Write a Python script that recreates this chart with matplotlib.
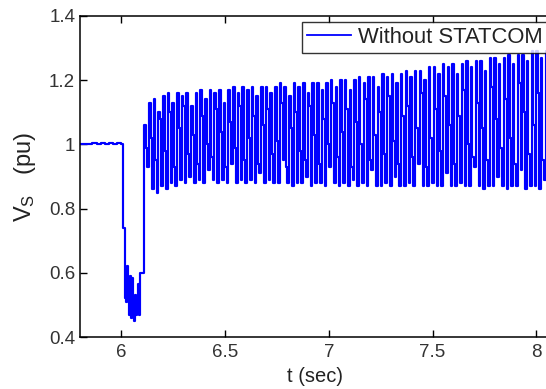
import numpy as np
import matplotlib
matplotlib.use("Agg")
import matplotlib.pyplot as plt

plt.rcParams['font.family'] = ['Liberation Sans', 'DejaVu Sans']
plt.rcParams['mathtext.default'] = 'regular'

# pre-fault voltage (sampled every 0.02 s from 5.80 s)
pre_start, pre_dt = 5.80, 0.02
pre_vals = [1.000, 1.002, 1.000, 1.004, 1.001, 1.003, 1.000, 1.004, 1.002, 1.005]

# fault period (sampled every 0.005 s from 6.00 s)
fault_start, fault_dt = 6.00, 0.005
fault_vals = [1.002, 0.74, 0.74, 0.52, 0.51, 0.62, 0.55, 0.47, 0.59, 0.46, 0.585,
              0.52, 0.45, 0.53, 0.47, 0.505, 0.565, 0.47, 0.60, 0.60, 0.60, 0.60]

# post-fault oscillation, one cycle = peak, mid step, trough
osc_start, osc_cycle = 6.11, 0.0225
peaks = [1.06, 1.13, 1.14, 1.10, 1.15, 1.16, 1.13, 1.16, 1.15, 1.16, 1.12,
         1.16, 1.17, 1.14, 1.17, 1.16, 1.17, 1.13, 1.17, 1.18, 1.16, 1.18,
         1.17, 1.18, 1.15, 1.18, 1.18, 1.16, 1.18, 1.19, 1.18, 1.15, 1.19,
         1.18, 1.19, 1.16, 1.19, 1.19, 1.17, 1.19, 1.20, 1.18, 1.20, 1.20,
         1.17, 1.20, 1.21, 1.19, 1.21, 1.21, 1.18, 1.22, 1.21, 1.22, 1.19,
         1.22, 1.23, 1.21, 1.23, 1.23, 1.20, 1.24, 1.24, 1.22, 1.25, 1.24,
         1.25, 1.22, 1.25, 1.26, 1.24, 1.26, 1.26, 1.23, 1.27, 1.27, 1.25,
         1.27, 1.28, 1.25, 1.28, 1.28, 1.26, 1.29, 1.29, 1.27, 1.29, 1.29]
mids = [0.99, 1.02, 0.95, 1.08, 0.98, 1.10, 0.93, 1.05, 1.12, 0.97, 1.03,
        0.94, 1.09, 1.00, 0.96, 1.11, 1.04, 0.93, 1.07, 0.99, 1.12, 0.95,
        1.02, 1.09, 0.94, 1.06, 1.11, 0.97, 1.01, 1.13, 0.93, 1.05, 1.10,
        0.98, 0.95, 1.12, 1.03, 0.94, 1.08, 1.00, 1.13, 0.96, 1.04, 1.11,
        0.93, 1.07, 1.00, 1.14, 0.95, 1.03, 1.10, 0.97, 1.15, 1.01, 0.94,
        1.09, 1.12, 0.96, 1.05, 1.16, 0.93, 1.02, 1.11, 0.98, 1.15, 1.06,
        0.94, 1.09, 1.17, 1.00, 0.96, 1.13, 1.05, 0.95, 1.18, 1.08, 0.99,
        1.14, 1.02, 0.94, 1.19, 1.10, 0.97, 1.06, 1.16, 0.95, 1.12, 1.01]
troughs = [0.93, 0.86, 0.85, 0.87, 0.86, 0.88, 0.87, 0.89, 0.88, 0.90, 0.88,
           0.89, 0.88, 0.92, 0.89, 0.88, 0.89, 0.88, 0.94, 0.88, 0.89, 0.88,
           0.89, 0.88, 0.91, 0.88, 0.89, 0.88, 0.88, 0.95, 0.88, 0.87, 0.88,
           0.88, 0.90, 0.87, 0.88, 0.88, 0.87, 0.93, 0.88, 0.87, 0.88, 0.87,
           0.89, 0.87, 0.88, 0.87, 0.92, 0.87, 0.87, 0.88, 0.87, 0.90, 0.87,
           0.87, 0.88, 0.87, 0.94, 0.87, 0.87, 0.88, 0.87, 0.87, 0.91, 0.87,
           0.87, 0.88, 0.87, 0.87, 0.93, 0.87, 0.86, 0.87, 0.87, 0.90, 0.87,
           0.86, 0.87, 0.87, 0.92, 0.86, 0.87, 0.87, 0.86, 0.89, 0.87, 0.86]

# assemble the sampled trace
t_pre = pre_start + pre_dt * np.arange(len(pre_vals))
t_fault = fault_start + fault_dt * np.arange(len(fault_vals))
osc_vals = np.column_stack([peaks, mids, troughs]).ravel()
t_osc = osc_start + (osc_cycle / 3) * np.arange(len(osc_vals))
t = np.concatenate([t_pre, t_fault, t_osc])
vs = np.concatenate([pre_vals, fault_vals, osc_vals])

fig = plt.figure(figsize=(5.46, 3.89), dpi=100)
ax = fig.add_axes([80 / 546, 52 / 389, 477 / 546, 321 / 389])

ax.plot(t, vs, color='#0000ff', lw=1.55, drawstyle='steps-post', label='Without STATCOM')

ax.set_xlim(5.8, 8.1)
ax.set_ylim(0.4, 1.4)
ax.set_xticks([6, 6.5, 7, 7.5, 8])
ax.set_xticklabels(['6', '6.5', '7', '7.5', '8'])
ax.set_yticks([0.4, 0.6, 0.8, 1.0, 1.2, 1.4])
ax.set_yticklabels(['0.4', '0.6', '0.8', '1', '1.2', '1.4'])
ax.tick_params(direction='in', length=5, width=1, top=True, right=True,
               labelsize=13.5, labelcolor='#333333')
ax.tick_params(axis='x', pad=5)
ax.tick_params(axis='y', pad=3.5)
for s in ax.spines.values():
    s.set_linewidth(1.1)

ax.set_xlabel('t (sec)', fontsize=14.5, color='#222222')
ax.xaxis.set_label_coords(0.493, -0.093)
ax.set_ylabel('$V_S$   (pu)', fontsize=17, color='#222222')
ax.yaxis.set_label_coords(-0.088, 0.5)

leg = ax.legend(loc='upper left', bbox_to_anchor=(302 / 546, 367 / 389),
                bbox_transform=fig.transFigure, fontsize=15.8, frameon=True,
                fancybox=False, borderaxespad=0, handlelength=2.0, borderpad=0.22,
                handletextpad=0.35)
leg.get_frame().set_edgecolor('black')
leg.get_frame().set_linewidth(1.0)
for line in leg.get_lines():
    line.set_linewidth(1.3)
for txt in leg.get_texts():
    txt.set_color('#222222')

fig.savefig('out.png', dpi=100)
